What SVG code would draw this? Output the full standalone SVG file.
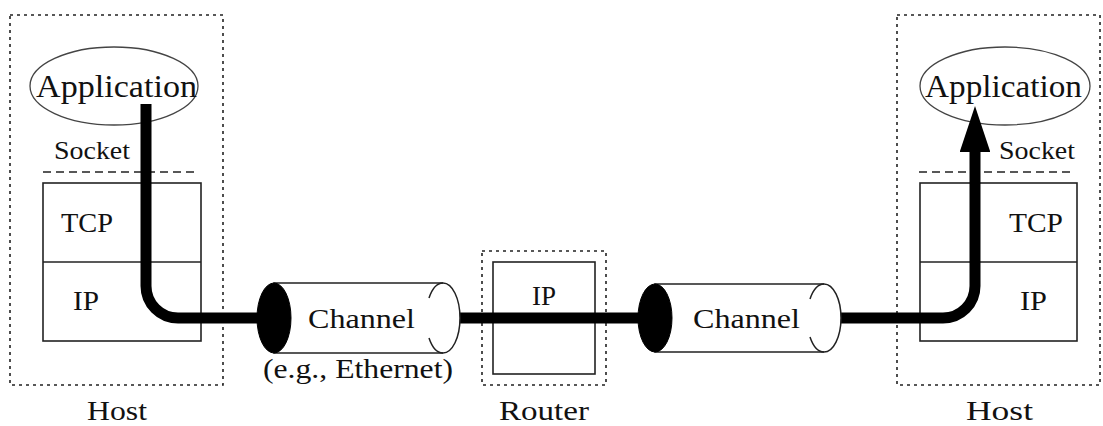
<svg xmlns="http://www.w3.org/2000/svg" width="1103" height="426" viewBox="0 0 1103 426">
  <style>
    .lbl { font-family: "Liberation Serif", "DejaVu Serif", serif; fill: #111; }
    .big { font-size: 31px; }
    .mid { font-size: 28px; }
    .sm { font-size: 25px; }
    .dotted { fill: none; stroke: #222; stroke-width: 1.6; stroke-dasharray: 3 4; }
    .box { fill: #fff; stroke: #222; stroke-width: 1.6; }
    .dash { fill: none; stroke: #222; stroke-width: 1.6; stroke-dasharray: 8 5; }
    .oval { fill: #fff; stroke: #444; stroke-width: 1.3; }
    .pipe { fill: none; stroke: #000; stroke-width: 11; }
    .cyl { fill: #fff; stroke: #222; stroke-width: 1.5; }
    .cap { fill: #000; stroke: #000; stroke-width: 1; }
    .rim { fill: none; stroke: #222; stroke-width: 1.5; }
  </style>
  <defs>
    <marker id="head" markerWidth="4.2" markerHeight="2.8" refX="0.2" refY="1.4" orient="auto" markerUnits="strokeWidth">
      <path d="M0,0 L4.2,1.4 L0,2.8 Z" fill="#000"/>
    </marker>
  </defs>

  <!-- left host -->
  <g id="host-left">
    <rect class="dotted" x="10" y="15" width="213" height="370"/>
    <ellipse class="oval" cx="114" cy="86" rx="84" ry="39"/>
    <text class="lbl big" x="36" y="97" textLength="161" lengthAdjust="spacingAndGlyphs">Application</text>
    <text class="lbl sm" x="54" y="159" textLength="76" lengthAdjust="spacingAndGlyphs">Socket</text>
    <line class="dash" x1="43" y1="172" x2="199" y2="172"/>
    <rect class="box" x="43" y="183" width="158" height="158"/>
    <line class="box" x1="43" y1="262" x2="201" y2="262"/>
    <text class="lbl mid" x="61" y="232" textLength="52" lengthAdjust="spacingAndGlyphs">TCP</text>
    <text class="lbl mid" x="73" y="310" textLength="26" lengthAdjust="spacingAndGlyphs">IP</text>
    <text class="lbl mid" x="87" y="420" textLength="60" lengthAdjust="spacingAndGlyphs">Host</text>
  </g>

  <!-- router -->
  <g id="router">
    <rect class="dotted" x="482" y="251" width="124" height="134"/>
    <rect class="box" x="493" y="262" width="102" height="112"/>
    <text class="lbl mid" x="532" y="305" textLength="24" lengthAdjust="spacingAndGlyphs">IP</text>
    <text class="lbl mid" x="499" y="420" textLength="90" lengthAdjust="spacingAndGlyphs">Router</text>
  </g>

  <!-- right host -->
  <g id="host-right">
    <rect class="dotted" x="897" y="15" width="203" height="370"/>
    <ellipse class="oval" cx="1005" cy="86" rx="85" ry="39"/>
    <text class="lbl big" x="925" y="97" textLength="157" lengthAdjust="spacingAndGlyphs">Application</text>
    <text class="lbl sm" x="999" y="159" textLength="76" lengthAdjust="spacingAndGlyphs">Socket</text>
    <line class="dash" x1="919" y1="172" x2="1073" y2="172"/>
    <rect class="box" x="920" y="183" width="157" height="158"/>
    <line class="box" x1="920" y1="262" x2="1077" y2="262"/>
    <text class="lbl mid" x="1009" y="232" textLength="54" lengthAdjust="spacingAndGlyphs">TCP</text>
    <text class="lbl mid" x="1020" y="310" textLength="27" lengthAdjust="spacingAndGlyphs">IP</text>
    <text class="lbl mid" x="966" y="420" textLength="67" lengthAdjust="spacingAndGlyphs">Host</text>
  </g>

  <!-- data path -->
  <g id="connectors">
    <path class="pipe" d="M146,104 V286 A32,32 0 0 0 178,318 H262"/>
    <line class="pipe" x1="455" y1="318" x2="660" y2="318"/>
    <path class="pipe" d="M836,318 H943 A32,32 0 0 0 975,286 V150" marker-end="url(#head)"/>
  </g>

  <!-- channel 1 -->
  <g id="channel-1">
    <path class="cyl" d="M274,283 H443 A17,35 0 0 1 443,353 H274 Z"/>
    <path class="rim" d="M443,283 A17,35 0 0 0 429,298 M429,338 A17,35 0 0 0 443,353"/>
    <ellipse class="cap" cx="274" cy="318" rx="17" ry="35"/>
    <text class="lbl mid" x="308" y="328" textLength="107" lengthAdjust="spacingAndGlyphs">Channel</text>
    <text class="lbl mid" x="263" y="378" textLength="190" lengthAdjust="spacingAndGlyphs">(e.g., Ethernet)</text>
  </g>

  <!-- channel 2 -->
  <g id="channel-2">
    <path class="cyl" d="M655,284 H824 A17,34 0 0 1 824,352 H655 Z"/>
    <path class="rim" d="M824,284 A17,34 0 0 0 810,299 M810,337 A17,34 0 0 0 824,352"/>
    <ellipse class="cap" cx="655" cy="318" rx="17" ry="34"/>
    <text class="lbl mid" x="693" y="328" textLength="107" lengthAdjust="spacingAndGlyphs">Channel</text>
  </g>
</svg>
